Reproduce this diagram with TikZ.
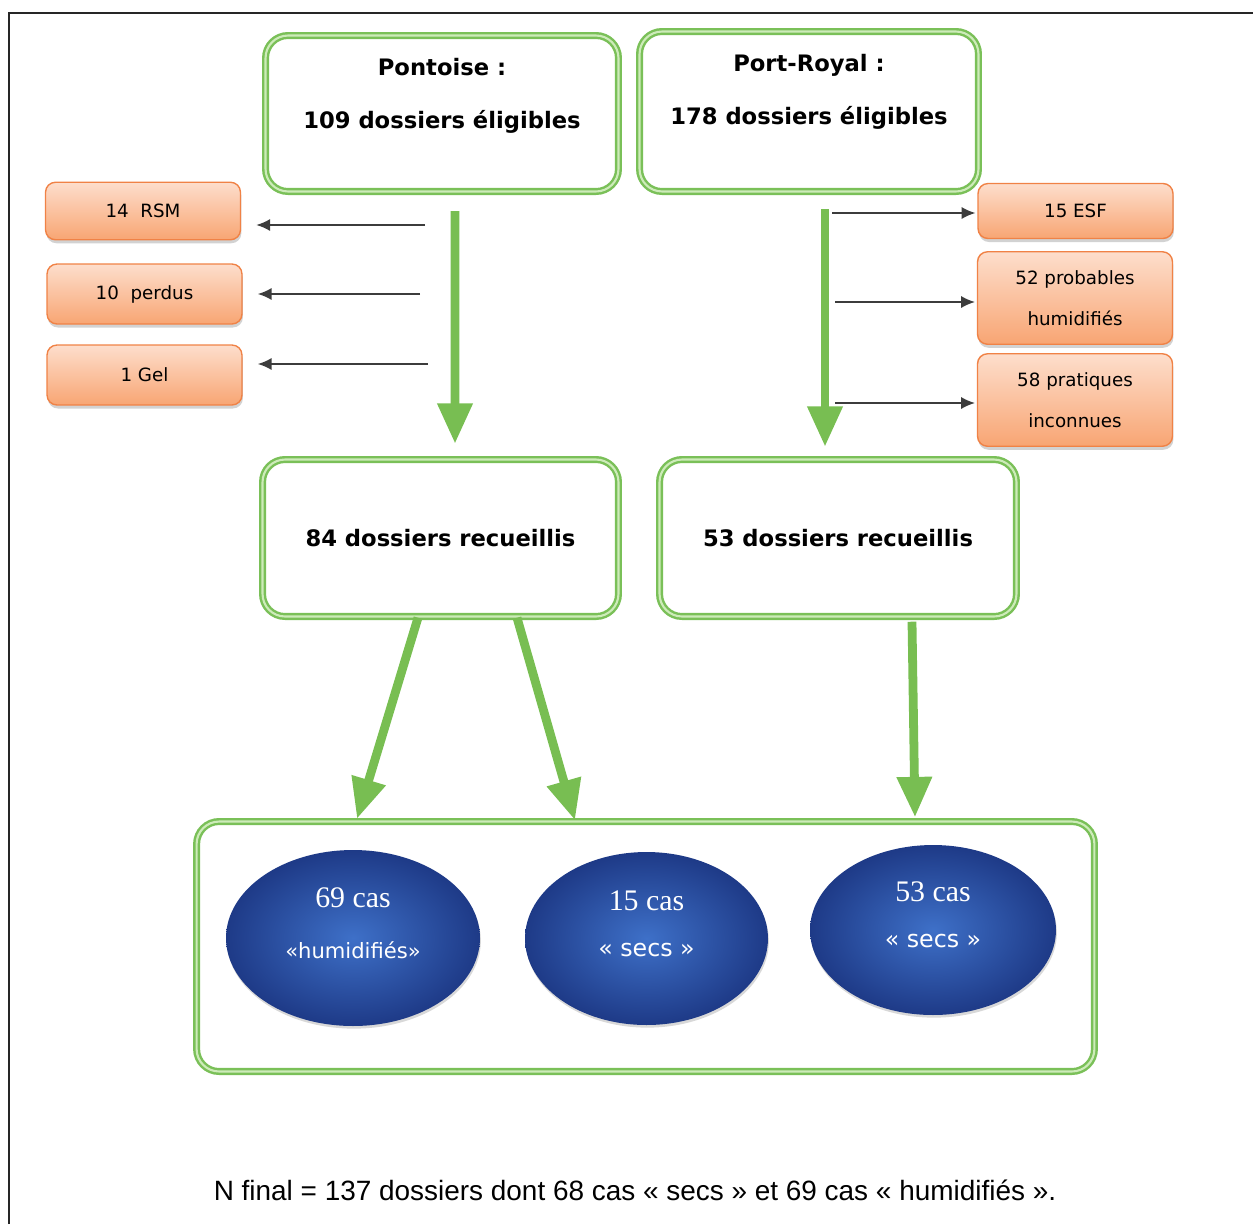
\documentclass[tikz,border=0pt]{standalone}
\usepackage{fontspec}
\setmainfont{DejaVu Sans}
\newfontfamily\casfont{Liberation Serif}
\newfontfamily\notefont{Liberation Sans}
\usetikzlibrary{calc}
\usetikzlibrary{positioning}
\usetikzlibrary{shapes.geometric}
\usetikzlibrary{shadows}
\usetikzlibrary{arrows.meta}

\definecolor{boxgreen}{RGB}{122,192,88}
\definecolor{boxgreenlight}{RGB}{205,235,185}
\definecolor{arrowgreen}{RGB}{120,190,82}
\definecolor{orangeedge}{RGB}{240,130,70}
\definecolor{orangetop}{RGB}{253,222,204}
\definecolor{orangebottom}{RGB}{248,165,115}
\definecolor{ovalin}{RGB}{62,112,200}
\definecolor{ovalout}{RGB}{30,58,135}
\definecolor{thingray}{RGB}{60,60,60}

\newcommand{\liftup}[2]{\raisebox{#1}[\height][\depth]{#2}}

\tikzset{
  greenbox/.style={draw=boxgreen, double=boxgreenlight, line width=1.4pt, double distance=1.2pt,
    rounded corners=0.45cm, fill=white, align=center, inner sep=0pt,
    font=\bfseries\fontsize{12.9}{15}\selectfont},
  orangebox/.style={draw=orangeedge, line width=0.8pt, top color=orangetop, bottom color=orangebottom,
    rounded corners=0.2cm, minimum width=3.9cm, align=center, font=\fontsize{10.4}{12.5}\selectfont,
    drop shadow={shadow xshift=0.5pt, shadow yshift=-2pt, fill=black!35}},
  oval/.style={ellipse, inner sep=0pt, shading=radial, inner color=ovalin, outer color=ovalout,
    text=white, drop shadow={shadow xshift=0.5pt, shadow yshift=-1.5pt, fill=black!30}},
  bigarrow/.style={draw=arrowgreen, line width=5pt, -{Triangle[length=23pt,width=19pt]}},
  thinarrow/.style={draw=thingray, line width=1.1pt, -{Latex[length=8pt,width=7pt]}},
}

\begin{document}
\begin{tikzpicture}[x=0.02cm, y=-0.02cm]
  \useasboundingbox (0,0) rectangle (1253,1224);
  \draw[line width=1.3pt, black!85] (9,1224) -- (9,13) -- (1253,13);

  % top boxes
  \node[greenbox, minimum width=7.06cm, minimum height=3.12cm] (pont) at (442,113.5)
    {\liftup{0.33cm}{\begin{tabular}{c}Pontoise :\\[15pt]109 dossiers éligibles\end{tabular}}};
  \node[greenbox, minimum width=6.78cm, minimum height=3.2cm] (port) at (809,111.5)
    {\liftup{0.38cm}{\begin{tabular}{c}Port-Royal :\\[15pt]178 dossiers éligibles\end{tabular}}};

  % excluded files
  \node[orangebox, minimum height=1.15cm] (rsm) at (143,211) {14~~RSM};
  \node[orangebox, minimum height=1.2cm] (perdus) at (144.5,294) {10~~perdus};
  \node[orangebox, minimum height=1.2cm] (gel) at (144.5,375) {1 Gel};
  \node[orangebox, minimum height=1.1cm] (esf) at (1075.5,211) {15 ESF};
  \node[orangebox, minimum height=1.85cm] (prob) at (1075,298) {52 probables\\[11pt]humidifiés};
  \node[orangebox, minimum height=1.85cm] (prat) at (1075,400) {58 pratiques\\[11pt]inconnues};

  % collected files
  \node[greenbox, minimum width=7.12cm, minimum height=3.14cm] (rec84) at (440.5,538) {84 dossiers recueillis};
  \node[greenbox, minimum width=7.14cm, minimum height=3.14cm] (rec53) at (838,538) {53 dossiers recueillis};

  % cases
  \node[greenbox, minimum width=17.96cm, minimum height=5cm] (cas) at (645.5,946.5) {};
  \node[oval, minimum width=5.08cm, minimum height=3.52cm] (e69) at (353,938)
    {\liftup{0.24cm}{\begin{tabular}{c}{\casfont\fontsize{17}{20}\selectfont 69 cas}\\[16pt]{\fontsize{12}{14}\selectfont «humidifiés»}\end{tabular}}};
  \node[oval, minimum width=4.86cm, minimum height=3.46cm] (e15) at (646.5,938.5)
    {\liftup{0.24cm}{\begin{tabular}{c}{\casfont\fontsize{17}{20}\selectfont 15 cas}\\[14pt]{\fontsize{13.5}{16}\selectfont « secs »}\end{tabular}}};
  \node[oval, minimum width=4.92cm, minimum height=3.4cm] (e53) at (933,930)
    {\liftup{0.24cm}{\begin{tabular}{c}{\casfont\fontsize{17}{20}\selectfont 53 cas}\\[14pt]{\fontsize{13.5}{16}\selectfont « secs »}\end{tabular}}};

  % flows
  \draw[bigarrow] ($(pont.south)+(13,18.5)$) -- ($(rec84.north)+(14.5,-14.5)$);
  \draw[bigarrow] ($(port.south)+(16,16.5)$) -- ($(rec53.north)+(-13,-11.5)$);
  \draw[bigarrow] ($(rec84.south)+(-22.5,0)$) -- ($(cas.north)+(-288.5,-1.5)$);
  \draw[bigarrow] ($(rec84.south)+(76.5,0)$) -- ($(cas.north)+(-70.5,0)$);
  \draw[bigarrow] ($(rec53.south)+(74,4)$) -- ($(cas.north)+(269.5,-3)$);

  \coordinate (p1) at (425,225);
  \coordinate (p2) at (420,294);
  \coordinate (p3) at (428,364);
  \draw[thinarrow, shorten >=0.3cm] (p1) -- (p1 -| rsm.east);
  \draw[thinarrow, shorten >=0.3cm] (p2) -- (p2 -| perdus.east);
  \draw[thinarrow, shorten >=0.3cm] (p3) -- (p3 -| gel.east);

  \coordinate (q1) at (832,213);
  \coordinate (q2) at (835,302);
  \coordinate (q3) at (835,403);
  \draw[thinarrow, shorten >=1pt] (q1) -- (q1 -| esf.west);
  \draw[thinarrow, shorten >=1pt] (q2) -- (q2 -| prob.west);
  \draw[thinarrow, shorten >=1pt] (q3) -- (q3 -| prat.west);

  \node[font=\notefont\fontsize{15.9}{19}\selectfont] (note) at (635,1190)
    {N final = 137 dossiers dont 68 cas « secs » et 69 cas « humidifiés ».};
\end{tikzpicture}
\end{document}
